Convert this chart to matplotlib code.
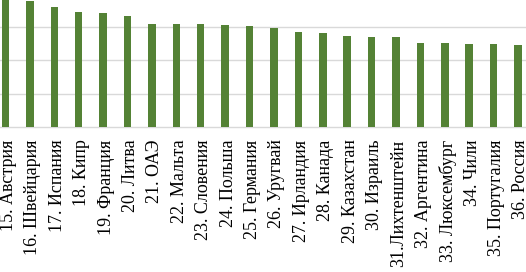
import matplotlib
matplotlib.use('Agg')
import matplotlib.pyplot as plt
import matplotlib.transforms as mtransforms
import numpy as np

COUNTRIES = [
    '15. Австрия', '16. Швейцария', '17. Испания', '18. Кипр', '19. Франция',
    '20. Литва', '21. ОАЭ', '22. Мальта', '23. Словения', '24. Польша',
    '25. Германия', '26. Уругвай', '27. Ирландия', '28. Канада', '29. Казахстан',
    '30. Израиль', '31.Лихтенштейн', '32. Аргентина', '33. Люксембург',
    '34. Чили', '35. Португалия', '36. Россия',
]
VALUES = [39.0, 37.8, 35.9, 34.4, 34.1, 33.2, 30.9, 30.8, 30.8, 30.5, 30.3,
          29.8, 28.5, 28.2, 27.3, 27.0, 27.0, 25.3, 25.2, 24.9, 24.9, 24.6]

BAR_COLOR = '#548235'
GRID_COLOR = '#d9d9d9'

fig = plt.figure(figsize=(5.26, 2.72), dpi=100)
ax = fig.add_axes([0.0, 0.533, 1.0, 0.467])

x = np.arange(len(COUNTRIES))
ax.bar(x, VALUES, width=0.31, color=BAR_COLOR, zorder=3)

ax.set_xlim(-0.225, 21.33)
ax.set_ylim(0, 38.1)
ax.set_yticks([10, 20, 30])
ax.yaxis.grid(True, color=GRID_COLOR, linewidth=1.0, zorder=0)
ax.tick_params(axis='y', length=0, labelleft=False)

ax.set_xticks(x)
ax.set_xticklabels(COUNTRIES, rotation=90, fontsize=13,
                   family=['Liberation Serif', 'DejaVu Serif'])
ax.tick_params(axis='x', length=0, pad=9)
# labels sit a little right of the bar centres in the original
shift = mtransforms.ScaledTranslation(3 / 100, 0, fig.dpi_scale_trans)
for lbl in ax.get_xticklabels():
    lbl.set_transform(lbl.get_transform() + shift)

for side in ['top', 'left', 'right']:
    ax.spines[side].set_visible(False)
ax.spines['bottom'].set_color(GRID_COLOR)
ax.spines['bottom'].set_linewidth(1.0)

fig.savefig('out.png', dpi=100)
